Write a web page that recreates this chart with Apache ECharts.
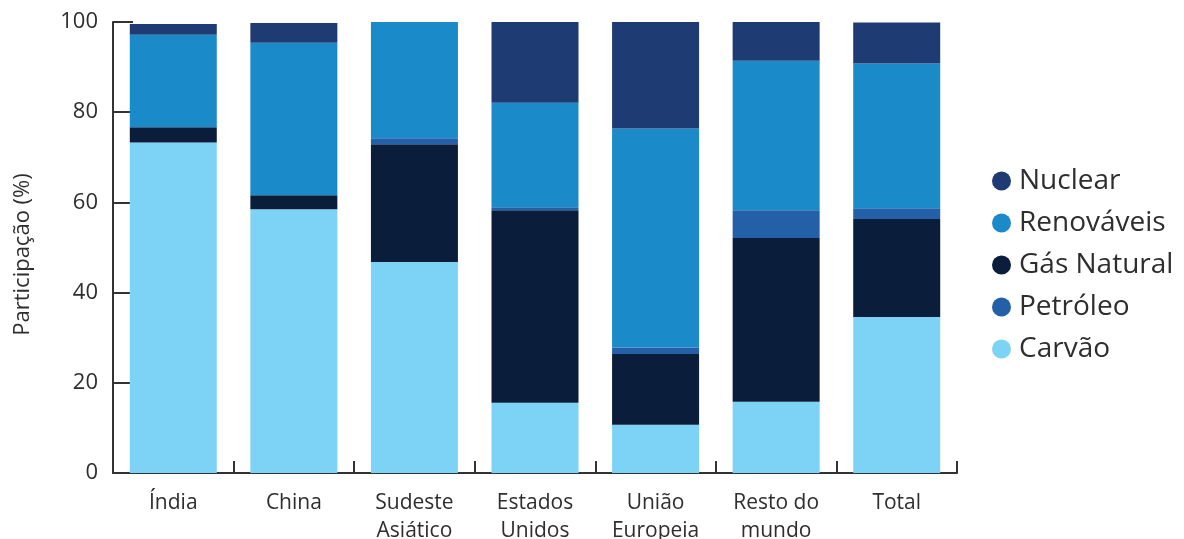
<!DOCTYPE html>
<html>
<head>
<meta charset="utf-8">
<script src="https://cdn.jsdelivr.net/npm/echarts@6/dist/echarts.min.js"></script>
<style>
  html, body { margin: 0; padding: 0; background: #fff; }
  #chart { width: 1184px; height: 539px; }
</style>
</head>
<body>
<div id="chart"></div>
<script>
const regions = ['Índia', 'China', 'Sudeste\nAsiático', 'Estados\nUnidos', 'União\nEuropeia', 'Resto do\nmundo', 'Total'];

const carvao     = [73.3, 58.5, 46.8, 15.6, 10.7, 15.8, 34.6];
const gasNatural = [3.35, 3.1,  26.1, 42.65, 15.7, 36.3, 21.7];
const petroleo   = [0,    0,    1.3,  0.65, 1.4,  6.15, 2.4];
const renovaveis = [20.5, 33.8, 25.8, 23.2, 48.6, 33.15, 32.1];
const nuclear    = [2.4,  4.4,  0,    17.9, 23.6, 8.6,  9.1];

const legendOrder = ['Nuclear', 'Renováveis', 'Gás Natural', 'Petróleo', 'Carvão'];

const fontFam = '"Open Sans", "Noto Sans", sans-serif';
const textColor = '#2e2e2e';

function bar(name, data, color) {
    return {
        name: name,
        type: 'bar',
        stack: 'total',
        barWidth: 87,
        data: data,
        itemStyle: {color: color},
        emphasis: {disabled: true}
    };
}

const myChart = echarts.init(document.getElementById('chart'));
const option = {
    backgroundColor: '#ffffff',
    animation: false,
    grid: {
        left: 113,
        right: 227,
        top: 22,
        bottom: 66,
        containLabel: false,
        outerBoundsMode: 'none'
    },
    legend: {
        orient: 'vertical',
        left: 987,
        top: 162,
        icon: 'circle',
        itemWidth: 19,
        itemHeight: 19,
        itemGap: 14,
        data: legendOrder,
        textStyle: {
            fontFamily: fontFam,
            fontSize: 28,
            lineHeight: 24,
            color: textColor,
            padding: [0, 0, 0, 3]
        }
    },
    xAxis: {
        type: 'category',
        data: regions,
        boundaryGap: true,
        axisLine: {lineStyle: {color: '#333', width: 2}},
        axisTick: {
            show: true,
            inside: true,
            length: 12,
            lineStyle: {color: '#333', width: 2}
        },
        axisLabel: {
            margin: 16,
            fontFamily: fontFam,
            fontSize: 21,
            lineHeight: 28,
            color: textColor,
            interval: 0
        }
    },
    yAxis: {
        type: 'value',
        min: 0,
        max: 100,
        interval: 20,
        name: 'Participação (%)',
        nameLocation: 'middle',
        nameGap: 79,
        nameRotate: 90,
        nameTextStyle: {
            fontFamily: fontFam,
            fontSize: 22,
            color: textColor,
            padding: [0, 14, 0, 0]
        },
        axisLine: {show: true, lineStyle: {color: '#333', width: 2}},
        axisTick: {
            show: true,
            inside: true,
            length: 20,
            lineStyle: {color: '#333', width: 2}
        },
        splitLine: {show: false},
        axisLabel: {
            margin: 15,
            fontFamily: fontFam,
            fontSize: 22,
            color: textColor,
            padding: [6, 0, 0, 0]
        }
    },
    series: [
        bar('Carvão', carvao, '#7dd3f5'),
        bar('Gás Natural', gasNatural, '#0a1e3b'),
        bar('Petróleo', petroleo, '#2360a8'),
        bar('Renováveis', renovaveis, '#1b8ac9'),
        bar('Nuclear', nuclear, '#1f3b73')
    ]
};
myChart.setOption(option);
window.onresize = myChart.resize;
</script>
</body>
</html>
